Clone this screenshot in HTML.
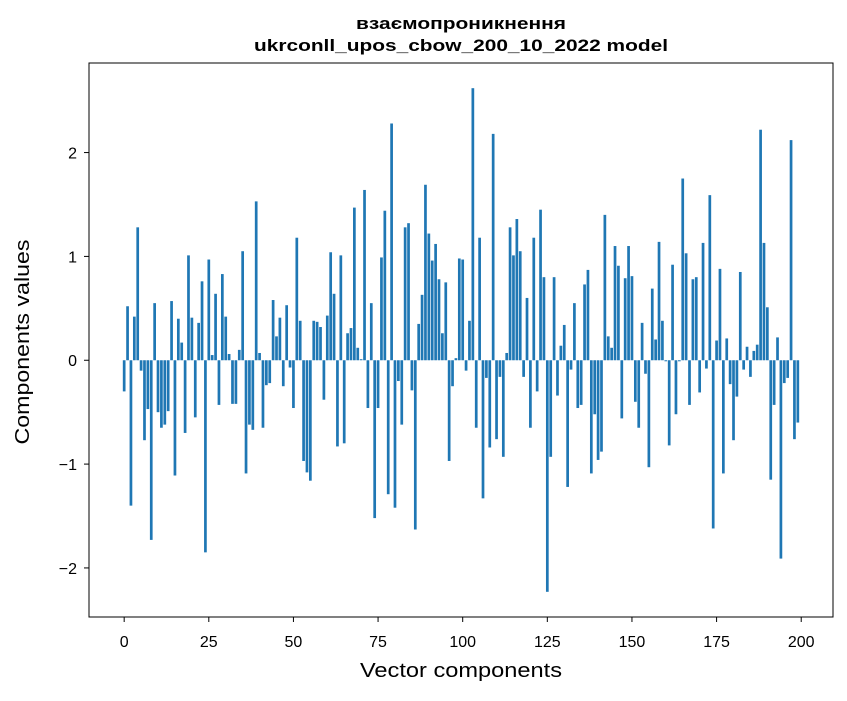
<!DOCTYPE html>
<html><head><meta charset="utf-8"><style>
body{margin:0;background:#fff}
svg text{font-family:"Liberation Sans","DejaVu Sans",sans-serif;fill:#000}
</style></head><body>
<svg id="chart" width="847" height="696" xmlns="http://www.w3.org/2000/svg">
<rect x="0" y="0" width="847" height="696" fill="#fff"/>
<text x="461" y="29" text-anchor="middle" font-size="17" font-weight="bold" textLength="210" lengthAdjust="spacingAndGlyphs">взаємопроникнення</text>
<text x="461" y="51" text-anchor="middle" font-size="17" font-weight="bold" textLength="414" lengthAdjust="spacingAndGlyphs">ukrconll_upos_cbow_200_10_2022 model</text>
<g id="bars"></g>
<g id="xticks"></g>
<g id="yticks"></g>
<rect x="89" y="63" width="744" height="554" fill="none" stroke="#000" stroke-width="1"/>
<text x="461" y="677" text-anchor="middle" font-size="20" textLength="202" lengthAdjust="spacingAndGlyphs">Vector components</text>
<text transform="translate(29,342) rotate(-90)" text-anchor="middle" font-size="20" textLength="205" lengthAdjust="spacingAndGlyphs">Components values</text>
</svg>
<script>
const values = [-0.30,0.52,-1.40,0.42,1.28,-0.10,-0.77,-0.47,-1.73,0.55,
-0.50,-0.65,-0.62,-0.49,0.57,-1.11,0.40,0.17,-0.70,1.01,
0.41,-0.55,0.36,0.76,-1.85,0.97,0.05,0.64,-0.43,0.83,
0.42,0.06,-0.42,-0.42,0.10,1.05,-1.09,-0.62,-0.67,1.53,
0.07,-0.65,-0.24,-0.22,0.58,0.23,0.41,-0.25,0.53,-0.07,
-0.46,1.18,0.38,-0.97,-1.08,-1.16,0.38,0.37,0.32,-0.38,
0.43,1.04,0.64,-0.83,1.01,-0.80,0.26,0.31,1.47,0.12,
0.01,1.64,-0.46,0.55,-1.52,-0.46,0.99,1.44,-1.29,2.28,
-1.42,-0.20,-0.62,1.28,1.32,-0.29,-1.63,0.35,0.63,1.69,
1.22,0.96,1.12,0.78,0.26,0.75,-0.97,-0.25,0.02,0.98,
0.97,-0.10,0.38,2.62,-0.65,1.18,-1.33,-0.17,-0.84,2.18,
-0.76,-0.16,-0.93,0.07,1.28,1.01,1.36,1.05,-0.16,0.60,
-0.65,1.18,-0.30,1.45,0.80,-2.23,-0.93,0.80,-0.34,0.14,
0.34,-1.22,-0.09,0.55,-0.46,-0.43,0.73,0.87,-1.09,-0.52,
-0.96,-0.88,1.40,0.23,0.12,1.10,0.91,-0.56,0.79,1.10,
0.81,-0.40,-0.65,0.36,-0.13,-1.03,0.69,0.20,1.14,0.38,
-0.01,-0.82,0.92,-0.52,-0.01,1.75,1.03,-0.43,0.78,0.80,
-0.31,1.13,-0.08,1.59,-1.62,0.19,0.88,-1.09,0.21,-0.23,
-0.77,-0.35,0.85,-0.09,0.13,-0.16,0.09,0.15,2.22,1.13,
0.51,-1.15,-0.43,0.22,-1.91,-0.22,-0.17,2.12,-0.76,-0.60];
const xTicks = [0,25,50,75,100,125,150,175,200];
const yTicks = [-2,-1,0,1,2];
const yTickLabels = ["\u22122","\u22121","0","1","2"];

const NS="http://www.w3.org/2000/svg";
const L=89,R=833,T=63,B=617;
const n=values.length;
const xmin0=-0.4,xmax0=(n-1)+0.4,xr=xmax0-xmin0;
const xmin=xmin0-0.05*xr,xmax=xmax0+0.05*xr;
let vmin=Math.min(0,...values),vmax=Math.max(0,...values),vr=vmax-vmin;
const ymin=vmin-0.05*vr,ymax=vmax+0.05*vr;
function xs(v){return L+(v-xmin)/(xmax-xmin)*(R-L);}
function ys(v){return B-(v-ymin)/(ymax-ymin)*(B-T);}
const bars=document.getElementById('bars');
values.forEach((v,i)=>{
  const r=document.createElementNS(NS,'rect');
  const x0=xs(i-0.4),x1=xs(i+0.4);
  const y0=ys(Math.max(0,v)),y1=ys(Math.min(0,v));
  r.setAttribute('x',x0);r.setAttribute('width',x1-x0);
  r.setAttribute('y',y0);r.setAttribute('height',Math.max(0.5,y1-y0));
  r.setAttribute('fill','#1f77b4');
  
  
  bars.appendChild(r);
});
const xt=document.getElementById('xticks');
xTicks.forEach(t=>{
  const x=xs(t);
  const l=document.createElementNS(NS,'line');
  l.setAttribute('x1',x);l.setAttribute('x2',x);l.setAttribute('y1',B);l.setAttribute('y2',B+5);
  l.setAttribute('stroke','#000');
  
  
  xt.appendChild(l);
  const tx=document.createElementNS(NS,'text');
  tx.setAttribute('x',x);tx.setAttribute('y',B+30);tx.setAttribute('text-anchor','middle');tx.setAttribute('font-size','16');
  tx.textContent=String(t);
  
  
  xt.appendChild(tx);
});
const yt=document.getElementById('yticks');
yTicks.forEach((t,k)=>{
  const y=ys(t);
  const l=document.createElementNS(NS,'line');
  l.setAttribute('x1',L-5);l.setAttribute('x2',L);l.setAttribute('y1',y);l.setAttribute('y2',y);
  l.setAttribute('stroke','#000');
  
  
  yt.appendChild(l);
  const tx=document.createElementNS(NS,'text');
  tx.setAttribute('x',L-12);tx.setAttribute('y',y+6);tx.setAttribute('text-anchor','end');tx.setAttribute('font-size','16');
  tx.textContent=yTickLabels[k];
  
  
  yt.appendChild(tx);
});
</script>
</body></html>
